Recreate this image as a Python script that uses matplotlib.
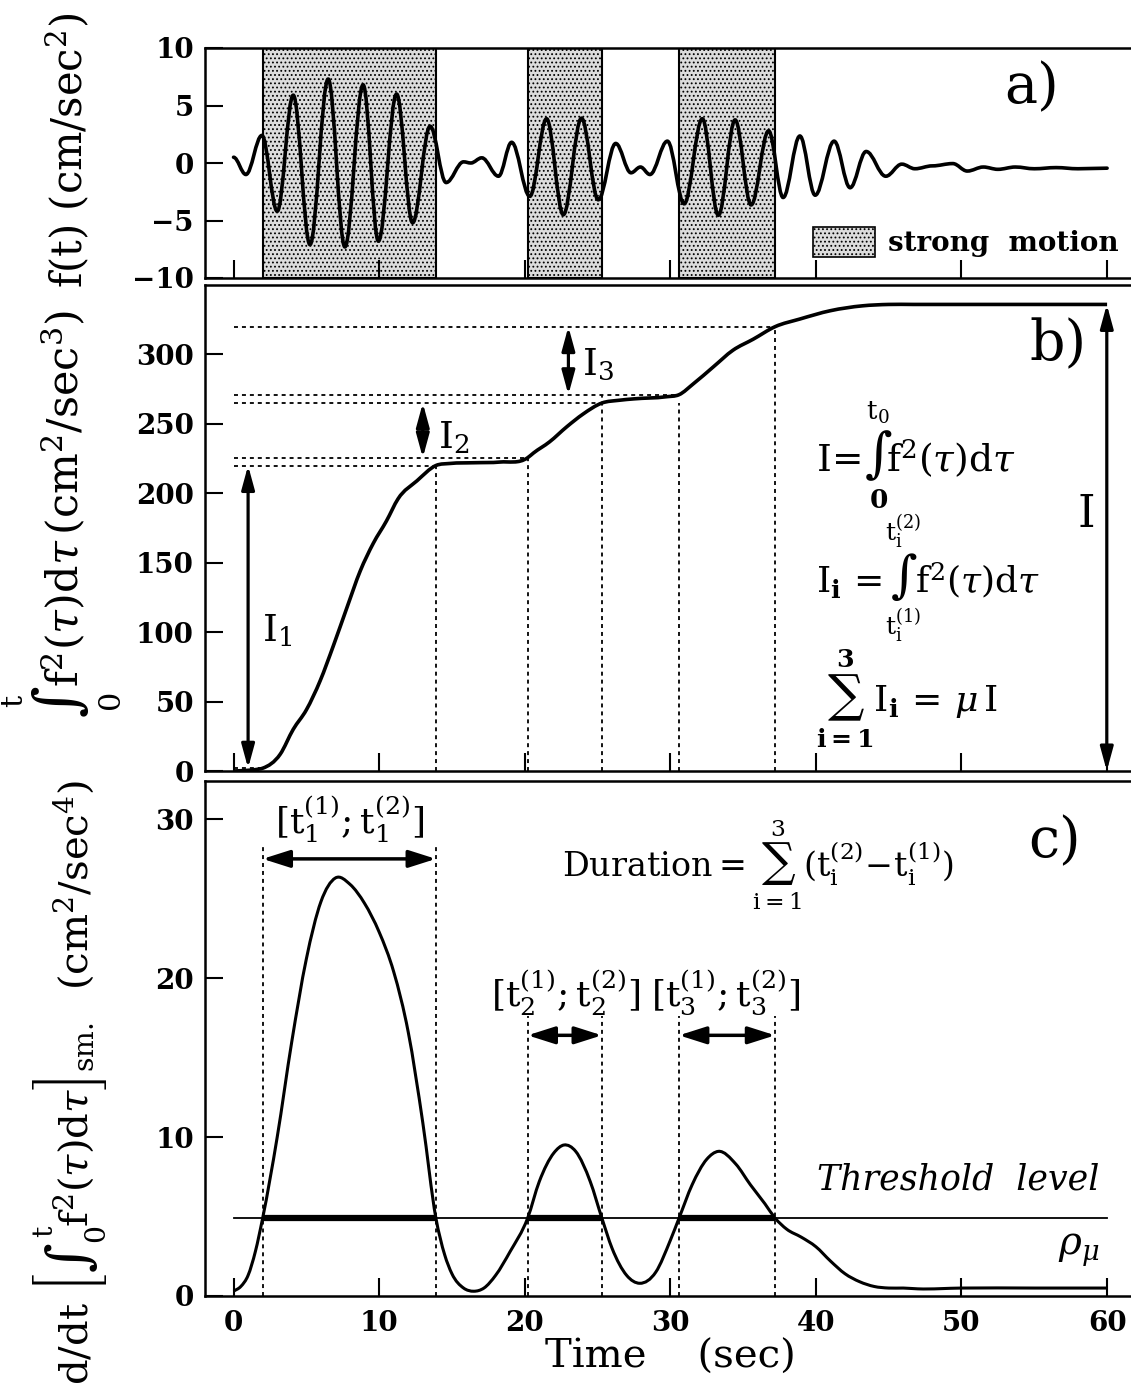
import numpy as np
import matplotlib
matplotlib.use("Agg")
import matplotlib.pyplot as plt
from matplotlib.path import Path
from matplotlib.patches import PathPatch, Patch

plt.rcParams['font.family'] = ['DejaVu Serif']
plt.rcParams['mathtext.fontset'] = 'dejavuserif'
plt.rcParams['hatch.linewidth'] = 0.8
plt.rcParams['hatch.color'] = '#404040'

# ---- data ----
# a) acceleration record, extrema (time s, cm/s^2)
t_acc = [0.0, 0.85, 1.95, 3.0, 4.1, 5.25, 6.5, 7.65, 8.9, 9.95, 11.2, 12.3, 13.5,
         14.6, 15.8, 16.3, 17.05, 18.2, 19.1, 20.35, 21.5, 22.65, 23.9, 25.05,
         26.25, 27.3, 27.95, 28.6, 29.8, 30.95, 32.2, 33.3, 34.45, 35.55, 36.75,
         37.75, 38.9, 39.95, 41.25, 42.35, 43.45, 44.8, 45.9, 46.8, 48.0, 49.4,
         50.4, 51.5, 52.5, 53.7, 55.0, 56.5, 58.0, 60.0]
f_acc = [0.5, -1.0, 2.4, -4.2, 5.9, -7.1, 7.3, -7.3, 6.8, -6.8, 6.0, -5.2, 3.2,
         -1.7, 0.1, 0.0, 0.45, -1.15, 1.8, -2.9, 3.85, -4.5, 3.9, -3.2,
         1.7, -0.85, -0.35, -1.0, 1.9, -3.55, 3.85, -4.55, 3.75, -3.65, 2.8,
         -3.0, 2.35, -2.8, 1.9, -2.15, 1.0, -1.15, -0.1, -0.5, -0.25, -0.05,
         -0.7, -0.35, -0.55, -0.35, -0.5, -0.4, -0.5, -0.45]

# strong motion intervals
t_on = [2.0, 20.2, 30.6]
t_off = [13.9, 25.3, 37.2]

# b) cumulative integral of f^2
t_cum = [0, 1, 1.5, 2.0, 3.2, 4.1, 5.0, 5.95, 6.85, 7.8, 8.7, 9.6, 10.5, 11.3,
         12.6, 13.9, 14.9, 16.5, 18.3, 20.2, 20.6, 21.7, 22.9, 24.0, 25.3, 26.5,
         27.5, 29.7, 30.6, 31.6, 32.95, 34.3, 35.7, 37.2, 38.9, 41.0, 43.2, 45.0,
         46.7, 50, 55, 60]
cum = [0, 0.5, 1, 2, 12, 30, 44, 65, 90, 118, 144, 164, 180, 196,
       209, 220, 221.5, 222, 222.5, 225.6, 229, 237, 248, 257, 265, 267,
       268, 269.5, 271, 279, 291, 303, 311, 320, 325.5, 331.5, 335, 336,
       336, 336, 336, 336]
level_on = [2, 225.6, 271]
level_off = [220, 265, 320]
total_I = 336

# c) smoothed rate of energy
t_rate = [0, 0.5, 1, 1.5, 2.0, 3, 4, 5, 6, 7, 8, 9, 10, 11, 12, 13, 13.9, 14.5,
          15, 15.8, 16.5, 17.2, 18, 19, 20.2, 21, 22, 22.7, 23.5, 24.5, 25.3,
          26, 27, 27.9, 29, 30, 30.6, 31.5, 32.5, 33.3, 34.5, 35.5, 36.5, 37.2,
          38, 39, 40, 41, 42, 43, 44, 45, 46, 47, 50, 55, 60]
rate = [0.3, 0.6, 1.3, 2.8, 4.9, 10.0, 16.0, 21.2, 24.8, 26.3, 25.9, 24.7,
        22.9, 20.4, 16.6, 10.9, 4.9, 2.6, 1.4, 0.5, 0.3, 0.5, 1.3, 2.8, 4.9,
        7.2, 9.0, 9.5, 9.1, 7.2, 4.9, 3.0, 1.3, 0.8, 1.5, 3.5, 4.9, 7.0, 8.6,
        9.1, 8.3, 7.0, 5.8, 4.9, 4.2, 3.7, 3.1, 2.2, 1.4, 0.9, 0.6, 0.5, 0.5,
        0.45, 0.5, 0.5, 0.5]
threshold = 4.9

xticks = [0, 10, 20, 30, 40, 50, 60]


def curve_path(x, y, slopes, k):
    # cubic bezier pieces through the read points
    verts = [(x[0], y[0])]
    codes = [Path.MOVETO]
    for i in range(1, len(x)):
        h = x[i] - x[i - 1]
        verts += [(x[i - 1] + k * h, y[i - 1] + slopes[i - 1] * k * h),
                  (x[i] - k * h, y[i] - slopes[i] * k * h), (x[i], y[i])]
        codes += [Path.CURVE4] * 3
    return Path(verts, codes)


def smooth(x, y):
    x = np.asarray(x, float)
    y = np.asarray(y, float)
    return curve_path(x, y, np.gradient(y, x), 1 / 3)


# ---- figure ----
W, H = 1131, 1385
fig = plt.figure(figsize=(W / 100, H / 100), dpi=100)
left = 205 / W
width = 928 / W
xlim = (-1.96, 61.78)


def panel(top, bottom):
    return fig.add_axes([left, (H - bottom) / H, width, (bottom - top) / H])


axa = panel(48, 278)
axb = panel(285, 771)
axc = panel(781, 1296)

for ax in (axa, axb, axc):
    ax.set_xlim(*xlim)
    ax.set_xticks(xticks)
    for s in ax.spines.values():
        s.set_linewidth(1.8)
    ax.tick_params(direction='in', length=13, width=1.5, labelsize=20, pad=8,
                   top=False, right=False)

axa.tick_params(labelbottom=False)
axb.tick_params(labelbottom=False)
axc.tick_params(axis='x', pad=10)

dot = (0, (2.2, 2.2))

# ---- a) ----
axa.set_ylim(-10, 10)
axa.set_yticks([-10, -5, 0, 5, 10])
axa.set_yticklabels(['\u221210', '\u22125', '0', '5', '10'])
for a, b in zip(t_on, t_off):
    axa.axvspan(a, b, facecolor='#dcdcdc', edgecolor='black', hatch='....',
                lw=1.5, zorder=1)
axa.add_patch(PathPatch(curve_path(t_acc, f_acc, [0] * len(t_acc), 0.364),
                        fill=False, lw=2.6, color='black', zorder=3,
                        capstyle='round', joinstyle='round'))
axa.legend(handles=[Patch(facecolor='#dcdcdc', edgecolor='black', hatch='....',
                          lw=1.2, label='strong  motion')],
           loc='lower right', bbox_to_anchor=(0.985, 0.09), frameon=False,
           borderpad=0, borderaxespad=0, handlelength=2.2, handleheight=1.3,
           handletextpad=0.5, prop={'size': 20, 'weight': 'bold'})
axa.text(0.891, 0.826, 'a)', transform=axa.transAxes, fontsize=40, ha='center', va='center')

# ---- b) ----
axb.set_ylim(0, 350)
axb.set_yticks([0, 50, 100, 150, 200, 250, 300])
axb.add_patch(PathPatch(smooth(t_cum, cum), fill=False, lw=2.6, color='black',
                        zorder=3, joinstyle='round'))
for lv, te in zip(level_on + level_off, t_on + t_off):
    axb.plot([0, te], [lv, lv], color='black', lw=1.3, ls=dot)
for te, lv in zip(t_off[:1] + t_on[1:] + t_off[1:],
                  [level_off[0], level_on[1], level_off[1], level_on[2], level_off[2]]):
    axb.plot([te, te], [0, lv], color='black', lw=1.3, ls=dot)

arrow = dict(arrowstyle='<|-|>,head_length=1.1,head_width=0.3', color='black',
             lw=2.3, shrinkA=0, shrinkB=0, mutation_scale=13)
for xa, lo, hi in zip([1.0, 13.0, 23.0], level_on, level_off):
    axb.annotate('', xy=(xa, hi), xytext=(xa, lo), arrowprops=arrow)
axb.annotate('', xy=(59.98, total_I), xytext=(59.98, 0), arrowprops=arrow)
axb.text(3.0, 101, r'$\mathrm{I}_1$', fontsize=27, ha='center', va='center')
axb.text(15.1, 240, r'$\mathrm{I}_2$', fontsize=27, ha='center', va='center')
axb.text(25.0, 292, r'$\mathrm{I}_3$', fontsize=27, ha='center', va='center')
axb.text(58.5, 185, r'$\mathrm{I}$', fontsize=32, ha='center', va='center')
axb.text(40.0, 228,
         r'$\mathrm{I}\!=\!\underset{\mathbf{0}}{\overset{\mathrm{t}_0}{\int}}\!\mathrm{f}^2(\tau)\mathrm{d}\tau$',
         fontsize=27, ha='left', va='center')
axb.text(40.0, 139,
         r'$\mathrm{I}_\mathbf{i}\,=\!\underset{\mathrm{t}_\mathrm{i}^{(1)}}{\overset{\mathrm{t}_\mathrm{i}^{(2)}}{\int}}\!\mathrm{f}^2(\tau)\mathrm{d}\tau$',
         fontsize=26, ha='left', va='center')
axb.text(40.0, 52, r'$\sum_{\mathbf{i=1}}^{\mathbf{3}}\mathrm{I}_\mathbf{i}\,=\,\mu\,\mathrm{I}$',
         fontsize=26, ha='left', va='center')
axb.text(0.919, 0.877, 'b)', transform=axb.transAxes, fontsize=40, ha='center', va='center')

# ---- c) ----
axc.set_ylim(0, 32.4)
axc.set_yticks([0, 10, 20, 30])
axc.add_patch(PathPatch(smooth(t_rate, rate), fill=False, lw=2.2, color='black', zorder=3))
axc.plot([0, 60], [threshold, threshold], color='black', lw=1.3)
for a, b in zip(t_on, t_off):
    axc.plot([a, b], [threshold, threshold], color='black', lw=4.5, solid_capstyle='butt')
tops = [28.4, 28.4, 17.6, 17.6, 17.6, 17.6]
for te, tp in zip(sorted(t_on + t_off), tops):
    axc.plot([te, te], [0, tp], color='black', lw=1.3, ls=dot)
arrow_c = dict(arrowstyle='<|-|>,head_length=1.1,head_width=0.35', color='black',
               lw=2.5, shrinkA=0, shrinkB=0, mutation_scale=15)
for a, b, yy in zip(t_on, t_off, [27.5, 16.4, 16.4]):
    axc.annotate('', xy=(b, yy), xytext=(a, yy), arrowprops=arrow_c)
axc.text(8.0, 30.0, r'$[\mathrm{t}_1^{(1)};\mathrm{t}_1^{(2)}]$', fontsize=26, ha='center', va='center')
axc.text(22.8, 19.1, r'$[\mathrm{t}_2^{(1)};\mathrm{t}_2^{(2)}]$', fontsize=26, ha='center', va='center')
axc.text(33.8, 19.1, r'$[\mathrm{t}_3^{(1)};\mathrm{t}_3^{(2)}]$', fontsize=26, ha='center', va='center')
axc.text(36.0, 27.1, r'Duration$=\sum_{\mathrm{i=1}}^{3}(\mathrm{t}_\mathrm{i}^{(2)}\!-\!\mathrm{t}_\mathrm{i}^{(1)})$',
         fontsize=24, ha='center', va='center')
axc.text(59.5, 7.3, 'Threshold  level', fontsize=25, style='italic', ha='right', va='center')
axc.text(59.5, 2.9, r'$\rho_\mu$', fontsize=28, ha='right', va='center')
axc.text(0.916, 0.882, 'c)', transform=axc.transAxes, fontsize=40, ha='center', va='center')

for ax in (axa, axb, axc):
    for lab in ax.get_yticklabels() + ax.get_xticklabels():
        lab.set_fontweight('bold')

# ---- axis labels ----
fig.text(68 / W, 1 - 150 / H, r'f(t) (cm/sec$^2$)', rotation=90, fontsize=30,
         ha='center', va='center')
fig.text(62 / W, 1 - 514 / H,
         r'$\underset{0}{\overset{\mathrm{t}}{\int}}\mathrm{f}^2(\tau)\mathrm{d}\tau\,(\mathrm{cm}^2/\mathrm{sec}^3)$',
         rotation=90, fontsize=31, ha='center', va='center')
fig.text(70 / W, 1 - 1082 / H,
         r'$\mathrm{d/dt}\ \left[\int_0^\mathrm{t}\mathrm{f}^2(\tau)\mathrm{d}\tau\right]_\mathrm{sm.}\ \ (\mathrm{cm}^2/\mathrm{sec}^4)$',
         rotation=90, fontsize=29, ha='center', va='center')
fig.text(670 / W, 1 - 1357 / H, 'Time    (sec)', fontsize=29, ha='center', va='center')

fig.savefig('out.png', dpi=100)
